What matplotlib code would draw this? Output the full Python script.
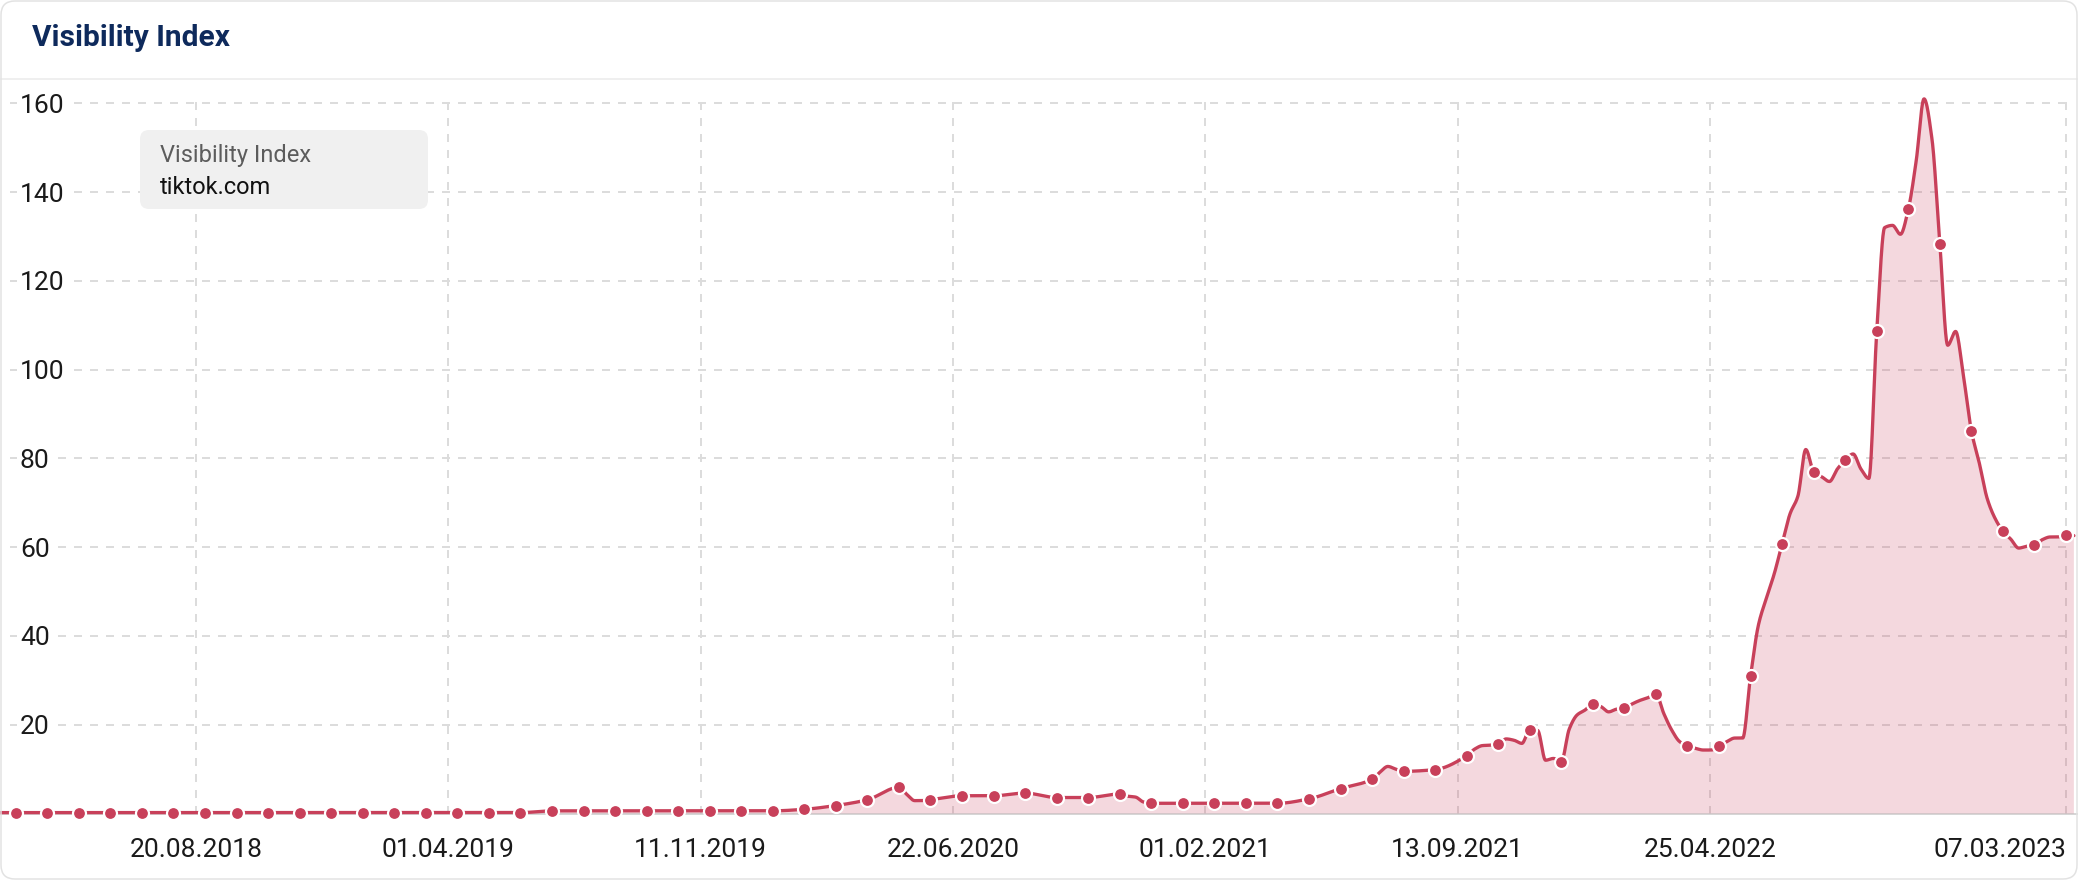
"""Visibility Index card for tiktok.com, redrawn with matplotlib."""

import matplotlib

matplotlib.use("Agg")

import matplotlib.dates as mdates
import matplotlib.pyplot as plt
import numpy as np
import pandas as pd
from matplotlib.lines import Line2D
from matplotlib.patches import FancyBboxPatch
from matplotlib.transforms import IdentityTransform

W, H, DPI = 2078, 880, 100
PT = 72 / DPI  # points per pixel

LINE_COLOR = "#C8405A"
GRID_COLOR = "#DCDCDC"
TITLE_COLOR = "#0E2A5C"
TEXT_COLOR = "#1A1A1A"

# ------------------------------------------------------------------ data
# one reading every four weeks carries a dot; the last dot is on 07.03.2023
DOT_END = "2023-03-07"
DOT_VALUES = [
    0.2, 0.2, 0.2, 0.2, 0.2, 0.2, 0.2, 0.2, 0.2, 0.2, 0.2, 0.2, 0.2, 0.2, 0.2, 0.2, 0.2,
    0.6, 0.6, 0.6, 0.6, 0.6, 0.6, 0.6, 0.6,
    0.95, 1.8, 3.1, 5.9, 3.1, 4.0, 4.0, 4.6, 3.6, 3.6,
    4.4, 2.3, 2.3, 2.3, 2.3, 2.3, 3.3, 5.6, 7.7, 9.5,
    9.9, 13.0, 15.6, 18.9, 11.7, 24.6, 23.7, 26.9, 15.2, 15.2,
    31.0, 60.8, 77.0, 79.6, 108.6, 136.1, 128.4, 86.2, 63.6, 60.5, 62.7,
]

# weekly readings without a dot where the curve visibly bends:
# (index of the preceding dot, weeks after it, value)
BETWEEN = [
    (0, -4, 0.2),
    (28, 1, 4.3), (28, 2, 2.9), (28, 3, 2.9),
    (35, 1, 3.9), (35, 2, 3.7), (35, 3, 2.6),
    (43, 1, 9.3), (43, 2, 10.6), (43, 3, 10.0),
    (46, 1, 14.5), (46, 2, 15.3), (46, 3, 15.4),
    (47, 1, 16.8), (47, 2, 16.5), (47, 3, 15.8),
    (48, 1, 18.7), (48, 2, 12.0), (48, 3, 12.4),
    (49, 1, 19.0), (49, 2, 22.2), (49, 3, 23.3),
    (50, 1, 24.1), (50, 2, 22.9), (50, 3, 23.5),
    (51, 1, 24.7), (51, 2, 25.5), (51, 3, 26.1),
    (52, 1, 22.5), (52, 2, 18.8), (52, 3, 16.2),
    (53, 1, 14.7), (53, 2, 14.3), (53, 3, 14.3),
    (54, 1, 16.2), (54, 2, 17.0), (54, 3, 17.0),
    (55, 1, 42.5), (55, 2, 48.5), (55, 3, 54.0),
    (56, 1, 67.5), (56, 2, 71.5), (56, 3, 82.0),
    (57, 1, 75.9), (57, 2, 74.8), (57, 3, 77.6),
    (58, 1, 81.0), (58, 2, 77.6), (58, 3, 75.5),
    (59, 1, 132.0), (59, 2, 132.5), (59, 3, 130.5),
    (60, 1, 147.0), (60, 2, 161.0), (60, 3, 152.0),
    (61, 1, 105.5), (61, 2, 108.6), (61, 3, 98.5),
    (62, 1, 79.0), (62, 2, 71.0), (62, 3, 66.5),
    (63, 1, 61.8), (63, 2, 59.8), (63, 3, 60.2),
    (64, 1, 61.7), (64, 2, 62.3), (64, 3, 62.3),
    (65, 1, 62.6),
]

X_TICK_LABELS = [
    "20.08.2018", "01.04.2019", "11.11.2019", "22.06.2020",
    "01.02.2021", "13.09.2021", "25.04.2022", "07.03.2023",
]
Y_TICKS = [20, 40, 60, 80, 100, 120, 140, 160]

SERIES_NAME = "tiktok.com"
CHART_TITLE = "Visibility Index"


def pchip(x, y, xs):
    """Monotone cubic through the readings (smooth line like the web chart)."""
    h = np.diff(x)
    delta = np.diff(y) / h
    m = np.zeros_like(y)
    for k in range(1, len(y) - 1):
        if delta[k - 1] * delta[k] > 0:
            w1 = 2 * h[k] + h[k - 1]
            w2 = h[k] + 2 * h[k - 1]
            m[k] = (w1 + w2) / (w1 / delta[k - 1] + w2 / delta[k])
    m[0], m[-1] = delta[0], delta[-1]
    idx = np.clip(np.searchsorted(x, xs) - 1, 0, len(x) - 2)
    t = (xs - x[idx]) / h[idx]
    h00 = 2 * t**3 - 3 * t**2 + 1
    h10 = t**3 - 2 * t**2 + t
    h01 = -2 * t**3 + 3 * t**2
    h11 = t**3 - t**2
    return (h00 * y[idx] + h10 * h[idx] * m[idx]
            + h01 * y[idx + 1] + h11 * h[idx] * m[idx + 1])


dot_dates = pd.date_range(end=DOT_END, periods=len(DOT_VALUES), freq="28D")
dot_x = mdates.date2num(dot_dates)

line_x = list(dot_x)
line_y = list(DOT_VALUES)
for i, weeks, val in BETWEEN:
    line_x.append(dot_x[i] + 7 * weeks)
    line_y.append(val)
order = np.argsort(line_x)
line_x = np.array(line_x)[order]
line_y = np.array(line_y)[order]
smooth_x = np.linspace(line_x[0], line_x[-1], 8000)
smooth_y = pchip(line_x, line_y, smooth_x)

tick_dates = pd.to_datetime(X_TICK_LABELS, format="%d.%m.%Y")
tick_x = mdates.date2num(tick_dates)

# ------------------------------------------------------------------ figure
plt.rcParams["font.family"] = ["Roboto", "DejaVu Sans"]
plt.rcParams["lines.scale_dashes"] = False

fig = plt.figure(figsize=(W / DPI, H / DPI), dpi=DPI)
fig.patch.set_facecolor("white")

plot_top, plot_bottom = 98, 813.5  # pixel rows of the plot area
ax = fig.add_axes([0, (H - plot_bottom) / H, 1, (plot_bottom - plot_top) / H])
ax.axis("off")

# horizontal scale: 20.08.2018 sits at x=196 px, 07.03.2023 at x=2066 px
px_per_day = (2066 - 196) / (tick_x[-1] - tick_x[0])
ax.set_xlim(tick_x[0] - 196 / px_per_day, tick_x[-1] + (W - 2066) / px_per_day)
ax.set_ylim(0, 161.2)

dash = (0, (8 * PT, 8 * PT))
ax.hlines(Y_TICKS, tick_x[0] - 186 / px_per_day, tick_x[-1],
          colors=GRID_COLOR, linewidth=2 * PT, linestyles=[dash], zorder=1)
ax.vlines(tick_x, 0, 160.6, colors=GRID_COLOR, linewidth=2 * PT,
          linestyles=[dash], zorder=1)
ax.axhline(0, color="#CCCCCC", linewidth=1.6 * PT, zorder=2, clip_on=False)

ax.fill_between(smooth_x, smooth_y, 0, color=LINE_COLOR, alpha=0.2,
                linewidth=0, zorder=3)
ax.plot(smooth_x, smooth_y, color=LINE_COLOR, linewidth=3.3 * PT,
        solid_capstyle="round", zorder=4, clip_on=False)
ax.plot(dot_x, DOT_VALUES, linestyle="none", marker="o", markersize=13 * PT,
        markerfacecolor=LINE_COLOR, markeredgecolor="white",
        markeredgewidth=2.2 * PT, zorder=5, clip_on=False)

# y labels sit inside the plot, over the gridlines
for v in Y_TICKS:
    ax.annotate(str(v), xy=(0, v), xycoords=("axes fraction", "data"),
                xytext=(20 * PT, 0), textcoords="offset points",
                ha="left", va="center_baseline", fontsize=19, color=TEXT_COLOR,
                bbox=dict(facecolor="white", edgecolor="none", pad=3 * PT),
                zorder=6)

# x labels, the last one kept inside the card
for k, (lbl, x) in enumerate(zip(X_TICK_LABELS, tick_x)):
    ax.annotate(lbl, xy=(x, 0), xycoords="data",
                xytext=(0, -(857 - plot_bottom) * PT), textcoords="offset points",
                ha="right" if k == len(X_TICK_LABELS) - 1 else "center",
                va="baseline", fontsize=19, color=TEXT_COLOR,
                annotation_clip=False)

# legend box
fig.add_artist(FancyBboxPatch((140, H - 209), 288, 79,
                              boxstyle="round,pad=0,rounding_size=9",
                              transform=IdentityTransform(),
                              facecolor="#F0F0F0", edgecolor="none", zorder=6))
fig.text(160 / W, 1 - 162 / H, CHART_TITLE, fontsize=17, color="#5C5C5C",
         va="baseline", zorder=7)
fig.text(160 / W, 1 - 194 / H, SERIES_NAME, fontsize=17, color="#111111",
         va="baseline", zorder=7)

# card header
fig.text(32 / W, 1 - 46.5 / H, CHART_TITLE, fontsize=21.5, fontweight="bold",
         color=TITLE_COLOR, va="baseline")
fig.add_artist(Line2D([1 / W, (W - 1) / W], [1 - 79 / H, 1 - 79 / H],
                      transform=fig.transFigure, color="#EBEBEB",
                      linewidth=1.5 * PT))
fig.add_artist(FancyBboxPatch((1, 1), W - 2, H - 2,
                              boxstyle="round,pad=0,rounding_size=14",
                              transform=IdentityTransform(),
                              facecolor="none", edgecolor="#E2E2E2",
                              linewidth=1.5 * PT, zorder=10))

fig.savefig("out.png", dpi=DPI, facecolor="white")
